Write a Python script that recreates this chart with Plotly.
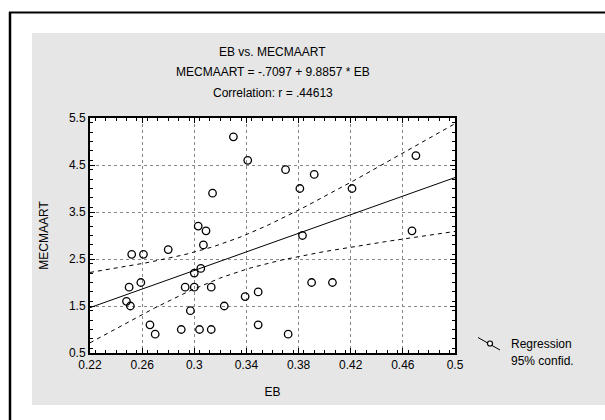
import numpy as np
import plotly.graph_objects as go

# Observations
eb = [0.330, 0.341, 0.314, 0.303, 0.309, 0.370, 0.392, 0.381, 0.421, 0.470,
      0.467, 0.383, 0.252, 0.261, 0.280, 0.307, 0.305, 0.300, 0.250, 0.259,
      0.293, 0.300, 0.313, 0.248, 0.251, 0.297, 0.323, 0.339, 0.349, 0.266,
      0.270, 0.290, 0.304, 0.313, 0.349, 0.390, 0.406, 0.372]
mecmaart = [5.1, 4.6, 3.9, 3.2, 3.1, 4.4, 4.3, 4.0, 4.0, 4.7,
            3.1, 3.0, 2.6, 2.6, 2.7, 2.8, 2.3, 2.2, 1.9, 2.0,
            1.9, 1.9, 1.9, 1.6, 1.5, 1.4, 1.5, 1.7, 1.8, 1.1,
            0.9, 1.0, 1.0, 1.0, 1.1, 2.0, 2.0, 0.9]

# Fitted model as reported
intercept = -0.7097
slope = 9.8857
corr_r = 0.44613
t_975 = 2.028  # Student t, 0.975 quantile, n-2 = 36 df

x_ticks = [0.22, 0.26, 0.30, 0.34, 0.38, 0.42, 0.46, 0.50]
x_tick_text = ["0.22", "0.26", "0.3", "0.34", "0.38", "0.42", "0.46", "0.5"]
y_ticks = [0.5, 1.5, 2.5, 3.5, 4.5, 5.5]
y_tick_text = ["0.5", "1.5", "2.5", "3.5", "4.5", "5.5"]

# Regression line and 95% confidence band for the mean
xs = np.array(eb)
ys = np.array(mecmaart)
n = len(xs)
xbar = xs.mean()
sxx = ((xs - xbar) ** 2).sum()
resid = ys - (intercept + slope * xs)
s = np.sqrt((resid ** 2).sum() / (n - 2))

xg = np.linspace(x_ticks[0], x_ticks[-1], 80)
yfit = intercept + slope * xg
half = t_975 * s * np.sqrt(1.0 / n + (xg - xbar) ** 2 / sxx)

FONT = "Liberation Sans, Arial, sans-serif"

fig = go.Figure()
fig.add_trace(go.Scatter(x=xg, y=yfit, mode="lines",
                         line=dict(color="black", width=1), hoverinfo="skip"))
fig.add_trace(go.Scatter(x=xg, y=yfit + half, mode="lines",
                         line=dict(color="black", width=1, dash="4px,4px"),
                         hoverinfo="skip"))
fig.add_trace(go.Scatter(x=xg, y=yfit - half, mode="lines",
                         line=dict(color="black", width=1, dash="4px,4px"),
                         hoverinfo="skip"))
fig.add_trace(go.Scatter(x=eb, y=mecmaart, mode="markers",
                         marker=dict(symbol="circle-open", size=7.5,
                                     color="black", line=dict(width=1.3))))

L, R, T, B = 90, 150, 118, 67
W, H = 605, 420
pw, ph = W - L - R, H - T - B


def px(x):
    return (x - L) / pw


def py(y):
    return (H - B - y) / ph


shapes = [
    # stippled backdrop of the chart panel
    dict(type="rect", xref="paper", yref="paper", layer="below",
         x0=px(32), x1=px(606), y0=py(405), y1=py(33),
         fillcolor="#e6e6e6", line=dict(width=0)),
    dict(type="rect", xref="paper", yref="paper", layer="below",
         x0=0, x1=1, y0=0, y1=1, fillcolor="white", line=dict(width=0)),
    # outer window frame
    dict(type="line", xref="paper", yref="paper", x0=px(10), x1=px(10),
         y0=py(12), y1=py(425), line=dict(color="black", width=2.5)),
    dict(type="line", xref="paper", yref="paper", x0=px(9), x1=px(610),
         y0=py(12.5), y1=py(12.5), line=dict(color="black", width=2)),
    # legend key
    dict(type="line", xref="paper", yref="paper", x0=px(478), x1=px(500),
         y0=py(337.5), y1=py(350), line=dict(color="black", width=1)),
    dict(type="circle", xref="paper", yref="paper",
         x0=px(487.5), x1=px(492.5), y0=py(346), y1=py(341),
         fillcolor="white", line=dict(color="black", width=1.2)),
]

annotations = [
    dict(text="EB vs. MECMAART", x=0.5, y=py(52)),
    dict(text=f"MECMAART = -.{str(abs(intercept)).split('.')[1]} + {slope} * EB",
         x=0.5, y=py(72)),
    dict(text=f"Correlation: r = .{str(corr_r).split('.')[1]}", x=0.5, y=py(93)),
]
annotations = [dict(a, xref="paper", yref="paper", showarrow=False,
                    xanchor="center", yanchor="middle",
                    font=dict(family=FONT, size=12, color="black"))
               for a in annotations]
annotations += [
    dict(text="Regression", x=px(509), y=py(344)),
    dict(text="95% confid.", x=px(509), y=py(361)),
]
annotations[3:] = [dict(a, xref="paper", yref="paper", showarrow=False,
                        xanchor="left", yanchor="middle",
                        font=dict(family=FONT, size=12, color="black"))
                   for a in annotations[3:]]

axis_common = dict(
    showline=True, linecolor="black", linewidth=2, mirror="ticks",
    ticks="inside", ticklen=5, tickcolor="black", tickwidth=1,
    showgrid=True, gridcolor="#888888", gridwidth=1, griddash="dot",
    zeroline=False, tickfont=dict(family=FONT, size=12, color="black"),
)

fig.update_layout(
    width=W, height=H,
    margin=dict(l=L, r=R, t=T, b=B, pad=0),
    paper_bgcolor="white", plot_bgcolor="white",
    showlegend=False,
    font=dict(family=FONT, size=12, color="black"),
    shapes=shapes, annotations=annotations,
    xaxis=dict(axis_common, range=[0.22, 0.5], tickvals=x_ticks,
               ticktext=x_tick_text,
               minor=dict(dtick=0.008, ticks="inside", ticklen=3,
                          tickcolor="black", showgrid=False),
               title=dict(text="EB", standoff=16,
                          font=dict(family=FONT, size=12))),
    yaxis=dict(axis_common, range=[0.5, 5.5], tickvals=y_ticks,
               ticktext=y_tick_text,
               minor=dict(dtick=0.2, ticks="inside", ticklen=3,
                          tickcolor="black", showgrid=False),
               title=dict(text="MECMAART", standoff=18,
                          font=dict(family=FONT, size=12))),
)

fig.write_html("out.html")
